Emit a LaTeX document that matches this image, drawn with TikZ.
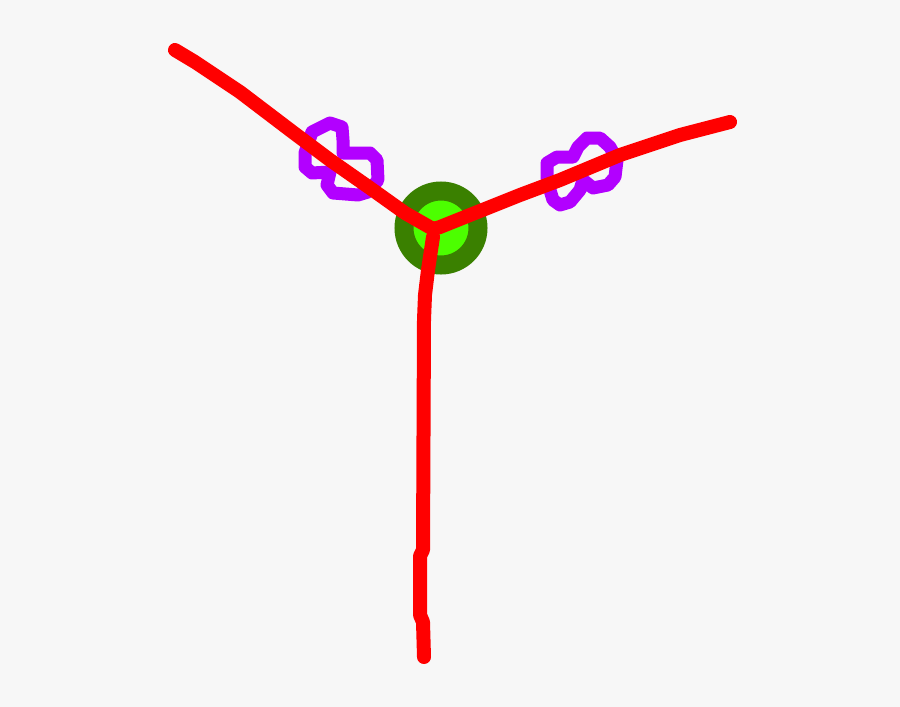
\documentclass[tikz,border=0pt]{standalone}
\usepackage{tikz}
\usetikzlibrary{calc,positioning}

\definecolor{paper}{RGB}{247,247,247}
\definecolor{wirered}{RGB}{255,0,0}
\definecolor{knotviolet}{RGB}{178,0,255}
\definecolor{ringdark}{RGB}{58,128,0}
\definecolor{ringlight}{RGB}{76,255,0}

\begin{document}
\begin{tikzpicture}[
        x=1pt, y=-1pt,
        wire/.style={draw=wirered, line width=14pt, line cap=round, line join=round},
        knot/.style={draw=knotviolet, line width=13pt, line cap=round, line join=round},
        ring/.style={draw=ringdark, fill=ringlight, line width=19pt}
    ]
    \fill[paper] (0,0) rectangle (900,707);
    \useasboundingbox (0,0) rectangle (900,707);

    % junction and loose ends
    \coordinate (hub) at (433,229);
    \coordinate (endleft) at (175,50);
    \coordinate (endright) at (730,122);
    \coordinate (endbottom) at (424,657);

    % purple knots on the two upper branches
    \draw[knot] (305,153) -- (312,132) -- (330,123) -- (342,127) -- (343,140)
        -- (343,153) -- (370,153) -- (377,160) -- (378,180) -- (368,192)
        -- (358,195) -- (333,193) -- (327,185) -- (330,172) -- (312,173)
        -- (305,167) -- cycle;
    \draw[knot] (547,163) -- (557,157) -- (573,157) -- (578,147) -- (587,138)
        -- (600,138) -- (610,147) -- (617,160) -- (615,177) -- (608,185)
        -- (593,188) -- (583,180) -- (580,190) -- (570,202) -- (560,205)
        -- (553,200) -- (550,190) -- (547,177) -- cycle;

    % green ring round the hub
    \draw[ring] (441,228) circle (37);

    % red branches
    \draw[wire] (endleft) -- (195,62) -- (240,92) -- (290,130) -- (330,160)
        -- (370,188) -- (405,213) -- (hub);
    \draw[wire] (hub) -- ++(7,-2) -- (480,211) -- (520,195) -- (560,180)
        -- (620,155) -- (680,135) -- (endright);
    \draw[wire] (hub) ++(0,8) -- (428,270) -- (425,295) -- (424,320)
        -- (423,550) -- (420,556) -- (420,615) -- (423,622) -- (endbottom);
\end{tikzpicture}
\end{document}
